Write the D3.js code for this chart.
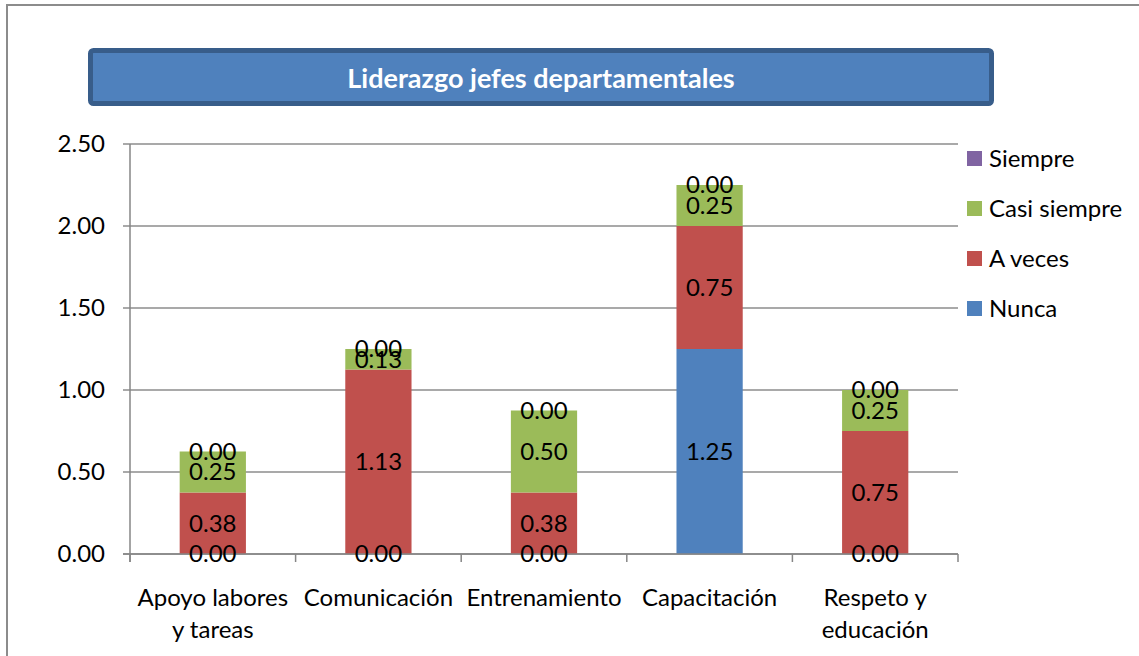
<!DOCTYPE html>
<html>
<head>
<meta charset="utf-8">
<script src="https://cdn.jsdelivr.net/npm/d3@7"></script>
<style>
  body { margin: 0; background: #fff; }
  text { font-family: Lato, "Open Sans", sans-serif; }
</style>
</head>
<body>
<div id="chart"></div>
<script>
// data
const categories = [["Apoyo labores", "y tareas"], ["Comunicación"], ["Entrenamiento"], ["Capacitación"], ["Respeto y", "educación"]];
const seriesNames = ["Nunca", "A veces", "Casi siempre", "Siempre"];
const nunca = [0, 0, 0, 1.25, 0];
const aVeces = [0.375, 1.125, 0.375, 0.75, 0.75];
const casiSiempre = [0.25, 0.125, 0.5, 0.25, 0.25];
const siempre = [0, 0, 0, 0, 0];
const yTicks = [0, 0.5, 1, 1.5, 2, 2.5];
const colors = ["#4f81bd", "#c0504d", "#9bbb59", "#8064a2"];

const width = 1139, height = 656;
const svg = d3.select("#chart").append("svg")
    .attr("width", width)
    .attr("height", height);

// outer chart frame
svg.append("rect")
    .attr("x", 7).attr("y", 5)
    .attr("width", 1200).attr("height", 700)
    .attr("fill", "none")
    .attr("stroke", "#8c8c8c")
    .attr("stroke-width", 2);

// title box
svg.append("rect")
    .attr("x", 90.5).attr("y", 50.5)
    .attr("width", 901).attr("height", 53)
    .attr("rx", 3)
    .attr("fill", "#4f81bd")
    .attr("stroke", "#385d8a")
    .attr("stroke-width", 5);
svg.append("text")
    .attr("x", 541).attr("y", 79)
    .attr("dy", "0.35em")
    .attr("text-anchor", "middle")
    .attr("fill", "#fff")
    .attr("font-weight", "bold")
    .attr("font-size", 27)
    .text("Liderazgo jefes departamentales");

// scales
const x = d3.scaleBand()
    .domain(d3.range(categories.length))
    .range([130, 958])
    .paddingInner(0.6)
    .paddingOuter(0.3);
const y = d3.scaleLinear().domain([0, 2.5]).range([554, 144]);

// gridlines
svg.append("g").selectAll("line")
    .data(yTicks)
    .join("line")
      .attr("x1", 123).attr("x2", 958)
      .attr("y1", d => y(d)).attr("y2", d => y(d))
      .attr("stroke", "#8c8c8c")
      .attr("stroke-width", 1.5);

// stack
const table = categories.map((c, i) => ({
  i: i, "Nunca": nunca[i], "A veces": aVeces[i], "Casi siempre": casiSiempre[i], "Siempre": siempre[i]
}));
const stacked = d3.stack().keys(seriesNames)(table);

svg.append("g").selectAll("g")
    .data(stacked)
    .join("g")
      .attr("fill", (d, k) => colors[k])
    .selectAll("rect")
    .data(d => d)
    .join("rect")
      .attr("x", d => x(d.data.i))
      .attr("width", x.bandwidth())
      .attr("y", d => y(d[1]))
      .attr("height", d => y(d[0]) - y(d[1]));

// axes
const axisColor = "#868686";
svg.append("line")
    .attr("x1", 130).attr("x2", 130).attr("y1", 144).attr("y2", 562)
    .attr("stroke", axisColor).attr("stroke-width", 1.5);
svg.append("line")
    .attr("x1", 123).attr("x2", 958).attr("y1", 554).attr("y2", 554)
    .attr("stroke", axisColor).attr("stroke-width", 1.5);
const bounds = d3.range(categories.length + 1).map(i => 130 + i * x.step());
svg.append("g").selectAll("line")
    .data(bounds)
    .join("line")
      .attr("x1", d => d).attr("x2", d => d)
      .attr("y1", 554).attr("y2", 562)
      .attr("stroke", axisColor).attr("stroke-width", 1.5);

// y tick labels
svg.append("g").selectAll("text")
    .data(yTicks)
    .join("text")
      .attr("x", 105)
      .attr("y", d => y(d))
      .attr("dy", "0.35em")
      .attr("text-anchor", "end")
      .attr("font-size", 24)
      .text(d => d.toFixed(2));

// value labels, drawn above the axis; zero values still shown like the original
const labels = stacked.flatMap((layer, k) => layer.map(v => ({v: v, key: seriesNames[k]})))
    .filter(d => !(d.key === "Nunca" && d.v.data.i === 3 && false));
svg.append("g").selectAll("text")
    .data(labels)
    .join("text")
      .attr("x", d => x(d.v.data.i) + x.bandwidth() / 2)
      .attr("y", d => y((d.v[0] + d.v[1]) / 2))
      .attr("dy", "0.35em")
      .attr("text-anchor", "middle")
      .attr("fill", "#000")
      .attr("font-size", 24)
      .text(d => d.v.data[d.key].toFixed(2));

// category labels
const catG = svg.append("g").selectAll("text")
    .data(categories)
    .join("text")
      .attr("text-anchor", "middle")
      .attr("font-size", 24)
      .attr("x", (d, i) => x(i) + x.bandwidth() / 2)
      .attr("y", 606);
catG.selectAll("tspan")
    .data(d => d)
    .join("tspan")
      .attr("x", function() { return this.parentNode.getAttribute("x"); })
      .attr("dy", (d, j) => j === 0 ? 0 : 32)
      .text(d => d);

// legend (reverse order, top = Siempre)
const legend = svg.append("g").selectAll("g")
    .data(seriesNames.slice().reverse())
    .join("g")
      .attr("transform", (d, i) => `translate(967, ${151 + i * 50})`);
legend.append("rect")
    .attr("width", 15).attr("height", 15)
    .attr("fill", d => colors[seriesNames.indexOf(d)]);
legend.append("text")
    .attr("x", 22).attr("y", 7.5)
    .attr("dy", "0.35em")
    .attr("font-size", 24)
    .text(d => d);
</script>
</body>
</html>
